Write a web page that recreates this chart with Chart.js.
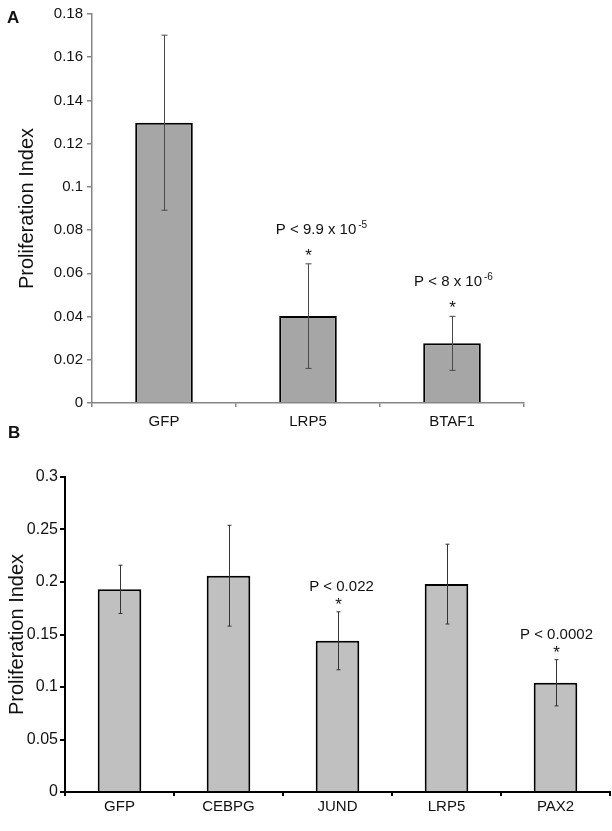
<!DOCTYPE html>
<html>
<head>
<meta charset="utf-8">
<script src="https://cdn.jsdelivr.net/npm/chart.js@4.4.1/dist/chart.umd.min.js"></script>
<style>
  html, body { margin: 0; padding: 0; background: #fff; width: 612px; height: 831px; overflow: hidden; }
  .panel { position: absolute; left: 0; width: 612px; }
  .tag { position: absolute; font: bold 17px "Liberation Sans", Arial, sans-serif; color: #111; }
</style>
</head>
<body>
<div class="panel" style="top:0;height:440px"><canvas id="chartA" width="612" height="440"></canvas></div>
<div class="panel" style="top:440px;height:391px"><canvas id="chartB" width="612" height="391"></canvas></div>
<div class="tag" style="left:7px;top:8px">A</div>
<div class="tag" style="left:8px;top:423px">B</div>

<script>
// panel A
const genesA = ["GFP", "LRP5", "BTAF1"];
const indexA = [0.1297, 0.0402, 0.0276];
const errA = [0.0405, 0.0242, 0.0125];
const pTextA = ["", "P < 9.9 x 10", "P < 8 x 10"];
const pSupA = ["", "-5", "-6"];
const starA = [false, true, true];
const ticksA = [0, 0.02, 0.04, 0.06, 0.08, 0.1, 0.12, 0.14, 0.16, 0.18];

// panel B
const genesB = ["GFP", "CEBPG", "JUND", "LRP5", "PAX2"];
const indexB = [0.193, 0.206, 0.144, 0.198, 0.104];
const errB = [0.023, 0.048, 0.0276, 0.038, 0.022];
const pTextB = ["", "", "P < 0.022", "", "P < 0.0002"];
const pSupB = ["", "", "", "", ""];
const starB = [false, false, true, false, true];
const ticksB = [0, 0.05, 0.1, 0.15, 0.2, 0.25, 0.3];

const FONT = "'Liberation Sans', Arial, sans-serif";
Chart.defaults.font.family = FONT;
Chart.defaults.color = "#111";

// error bars, stars and p-value labels
const barExtras = {
  id: "barExtras",
  afterDatasetsDraw(chart, args, opts) {
    const { ctx } = chart;
    const x = chart.scales.x, y = chart.scales.y;
    const vals = chart.data.datasets[0].data;
    ctx.save();
    vals.forEach((v, i) => {
      const cx = Math.round(x.getPixelForValue(i)) + 0.5;
      const top = y.getPixelForValue(v + opts.errors[i]);
      const bot = y.getPixelForValue(v - opts.errors[i]);
      ctx.strokeStyle = opts.errColor;
      ctx.lineWidth = 1;
      ctx.beginPath();
      ctx.moveTo(cx, top); ctx.lineTo(cx, bot);
      ctx.moveTo(cx - opts.cap, top); ctx.lineTo(cx + opts.cap, top);
      ctx.moveTo(cx - opts.cap, bot); ctx.lineTo(cx + opts.cap, bot);
      ctx.stroke();

      ctx.fillStyle = "#111";
      ctx.textBaseline = "alphabetic";
      if (opts.stars[i]) {
        ctx.font = "17px " + FONT;
        ctx.textAlign = "center";
        ctx.fillText("*", cx, top - opts.starGap);
      }
      if (opts.texts[i]) {
        const main = opts.texts[i], sup = opts.sups[i];
        ctx.font = "15px " + FONT;
        const w1 = ctx.measureText(main).width;
        ctx.font = "10px " + FONT;
        const w2 = sup ? ctx.measureText(sup).width + 2 : 0;
        const left = cx + opts.shift[i] - (w1 + w2) / 2;
        const base = top - opts.textGap;
        ctx.textAlign = "left";
        ctx.font = "15px " + FONT;
        ctx.fillText(main, left, base);
        if (sup) {
          ctx.font = "10px " + FONT;
          ctx.fillText(sup, left + w1 + 2, base - 6);
        }
      }
    });
    ctx.restore();
  },
};

function makeChart(id, cfg) {
  return new Chart(document.getElementById(id), {
    type: "bar",
    data: {
      labels: cfg.labels,
      datasets: [{
        data: cfg.values,
        backgroundColor: cfg.fill,
        borderColor: "#000",
        borderWidth: 2,
        categoryPercentage: 1,
        barPercentage: 0.4,
      }],
    },
    options: {
      responsive: false,
      animation: false,
      devicePixelRatio: 1,
      layout: { padding: cfg.padding },
      plugins: {
        legend: { display: false },
        tooltip: { enabled: false },
        barExtras: cfg.extras,
      },
      scales: {
        x: {
          offset: true,
          grid: { offset: true, drawOnChartArea: false, tickLength: 4, color: cfg.axisColor, lineWidth: cfg.axisWidth },
          border: { color: cfg.axisColor, width: cfg.axisWidth },
          ticks: { font: { size: 15 }, color: "#111", padding: cfg.xPad, maxRotation: 0 },
          afterFit: (s) => { s.height = cfg.xHeight; },
        },
        y: {
          min: 0,
          max: cfg.ticks[cfg.ticks.length - 1],
          afterBuildTicks: (s) => { s.ticks = cfg.ticks.map((v) => ({ value: v })); },
          grid: { drawOnChartArea: false, tickLength: 5, color: cfg.axisColor, lineWidth: cfg.axisWidth },
          border: { color: cfg.axisColor, width: cfg.axisWidth },
          ticks: {
            font: { size: cfg.yFont },
            color: "#111",
            padding: cfg.yPad,
            callback: (v) => String(+Number(v).toFixed(3)),
          },
          title: {
            display: true,
            text: "Proliferation Index",
            font: { size: 20 },
            color: "#111",
            padding: { top: cfg.titlePad, bottom: 0 },
          },
          afterFit: (s) => { s.width = cfg.yWidth; },
        },
      },
    },
    plugins: [barExtras],
  });
}

makeChart("chartA", {
  labels: genesA,
  values: indexA,
  ticks: ticksA,
  fill: "#a6a6a6",
  axisColor: "#858585",
  axisWidth: 1.5,
  padding: { top: 14, right: 88, left: 0, bottom: 0 },
  xHeight: 37,
  xPad: 6,
  yWidth: 92,
  yFont: 15,
  yPad: 4,
  titlePad: 15,
  extras: {
    errors: errA, stars: starA, texts: pTextA, sups: pSupA,
    shift: [0, 13, 1], errColor: "#4a4a4a", cap: 3,
    starGap: 3, textGap: 30,
  },
});

makeChart("chartB", {
  labels: genesB,
  values: indexB,
  ticks: ticksB,
  fill: "#c0c0c0",
  axisColor: "#000",
  axisWidth: 2,
  padding: { top: 37, right: 2, left: 0, bottom: 0 },
  xHeight: 39,
  xPad: 2,
  yWidth: 65,
  yFont: 16,
  yPad: 2,
  titlePad: 5,
  extras: {
    errors: errB, stars: starB, texts: pTextB, sups: pSupB,
    shift: [0, 0, 3, 0, 0], errColor: "#333", cap: 2,
    starGap: 2, textGap: 21,
  },
});
</script>
</body>
</html>
